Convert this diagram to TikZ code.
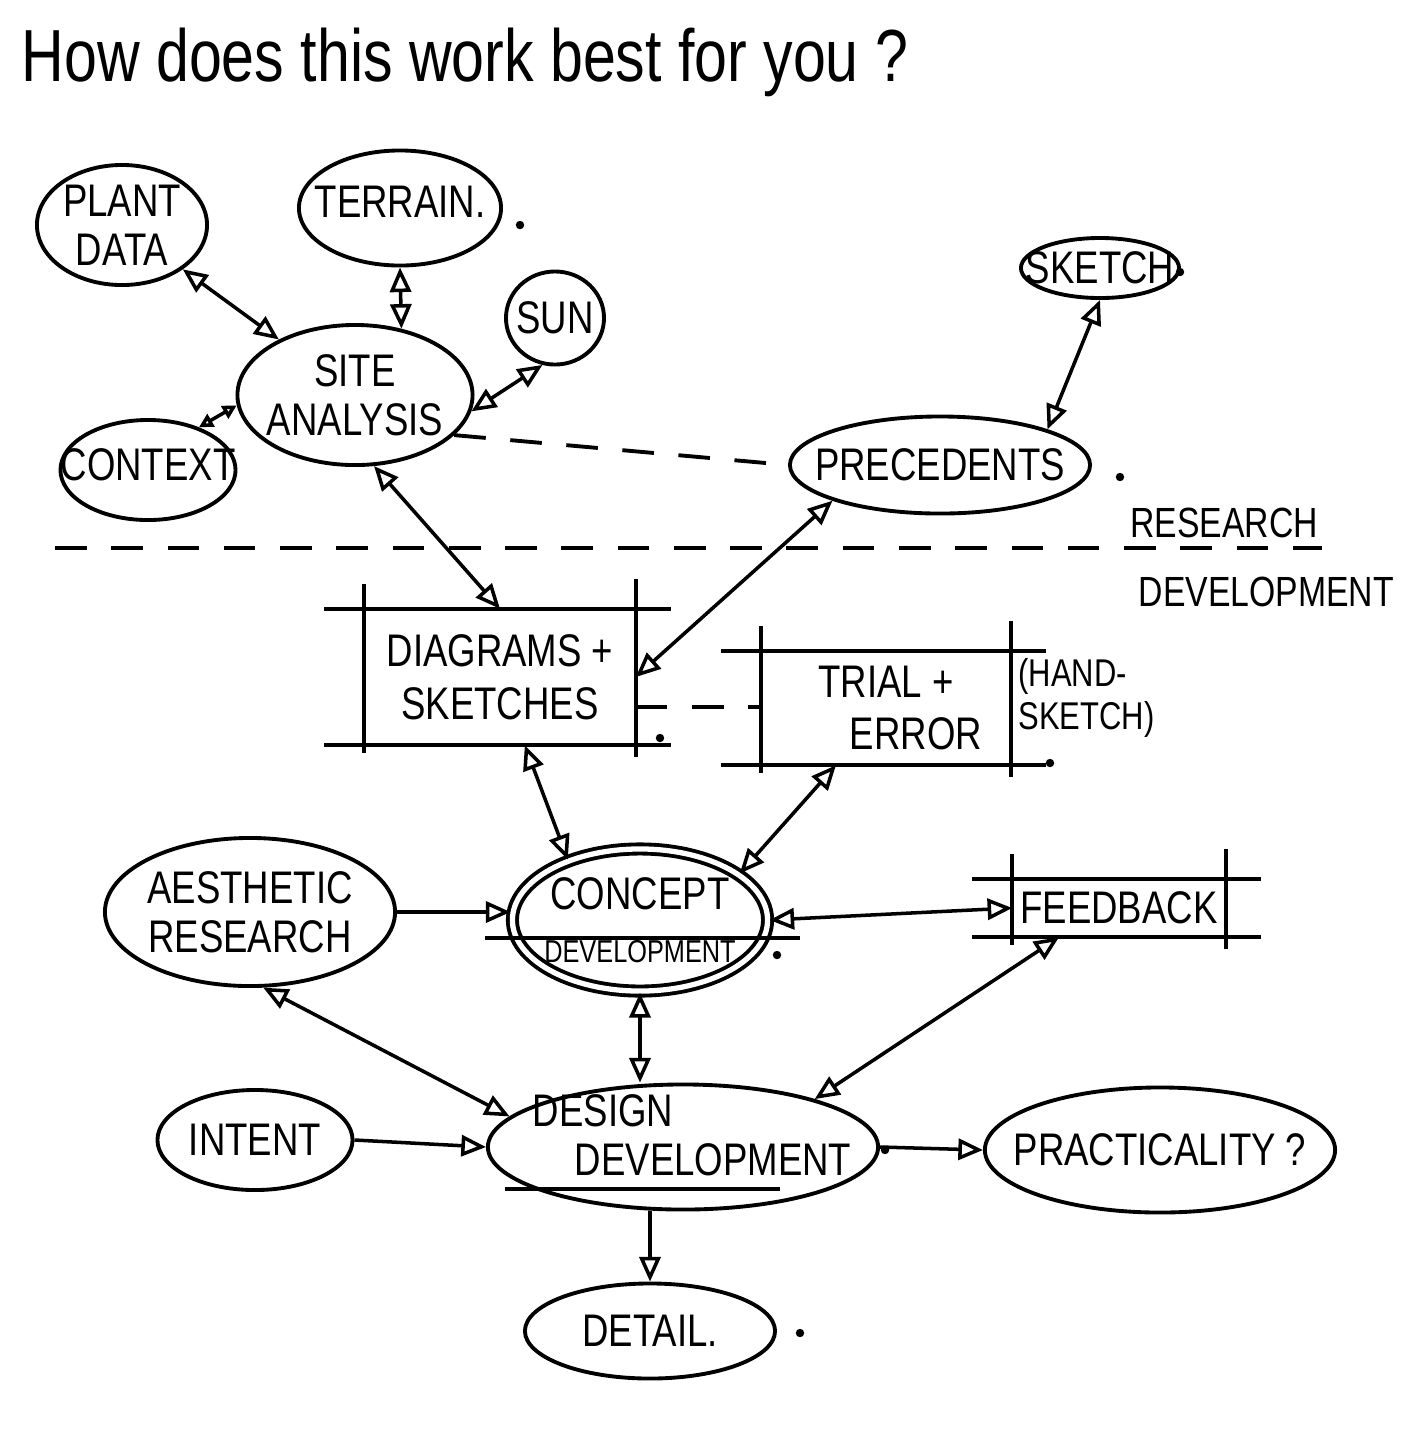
\documentclass[tikz,border=0pt]{standalone}
\usepackage{fontspec}
\setmainfont[FakeStretch=0.8]{Liberation Sans}
\usetikzlibrary{calc,positioning,shapes.geometric,arrows.meta}
\tikzset{
    word/.style={align=center, inner sep=0pt, font=\fontsize{13}{14}\selectfont},
    bubble/.style={ellipse, draw=black, line width=1.1pt, inner sep=0pt},
    frame/.style={rectangle, inner sep=0pt, align=center, font=\fontsize{13}{15}\selectfont},
    note/.style={font=\fontsize{12}{13}\selectfont, align=left, inner sep=1pt},
    rule/.style={line width=1.1pt},
    split/.style={line width=1.1pt, dash pattern=on 9pt off 7pt},
    line/.style={<->, line width=1pt, >={Triangle[open, length=7pt, width=6pt, line width=1pt]}},
    oneway/.style={->, line width=1pt, >={Triangle[open, length=7pt, width=6pt, line width=1pt]}},
}

\begin{document}
\begin{tikzpicture}
        [x=0.01cm, y=-0.01cm]
        \useasboundingbox (0,0) rectangle (1402,1429);

        \node[font=\fontsize{21}{23}\selectfont] (title) at (465,62) {How does this work best for you ?};

        % research side
        \node[bubble, minimum width=1.7cm, minimum height=1.2cm, label={[word]center:PLANT\\DATA}] (plant) at (122,225) {};
        \node[bubble, minimum width=2.02cm, minimum height=1.15cm, label={[word, yshift=0.06cm]center:TERRAIN.}] (terrain) at (400,208) {};
        \node[bubble, minimum width=0.98cm, minimum height=0.93cm, label={[word]center:SUN}] (sun) at (555,318) {};
        \node[bubble, minimum width=2.35cm, minimum height=1.4cm, label={[word]center:SITE\\ANALYSIS}] (site) at (355,395) {};
        \node[bubble, minimum width=1.75cm, minimum height=1.0cm, label={[word, yshift=0.05cm]center:CONTEXT}] (context) at (148,470) {};
        \node[bubble, minimum width=1.58cm, minimum height=0.6cm, label={[word]center:SKETCH}] (sketch) at (1100,268) {};
        \node[bubble, minimum width=3.0cm, minimum height=0.97cm, label={[word]center:PRECEDENTS}] (precedents) at (940,465) {};

        \coordinate (splitL) at (55,548);
        \coordinate (splitR) at (1322,548);
        \draw[split] (splitL) -- (splitR);
        \node[note, anchor=south east] (research) at ([yshift=0.06cm]splitR) {RESEARCH};
        \node[note, anchor=east] (development) at (1398,592) {DEVELOPMENT};

        % development side
        \node[frame, minimum width=2.7cm, minimum height=1.35cm] (diagrams) at (500,677) {DIAGRAMS +\\SKETCHES};
        \node[frame, minimum width=2.48cm, minimum height=1.13cm] (trial) at (886,708) {TRIAL +\\\hspace*{0.6cm}ERROR};
        \node[note, font=\fontsize{11}{12}\selectfont, right=1pt of trial, yshift=0.1cm] (hand) {(HAND-\\SKETCH)};
        \node[frame, minimum width=2.12cm, minimum height=0.57cm] (feedback) at (1119,908) {FEEDBACK};
        \foreach \b in {diagrams,trial,feedback} {
            \draw[rule] ($(\b.north west)+(-40,0)$) -- ($(\b.north east)+(35,0)$);
            \draw[rule] ($(\b.south west)+(-40,0)$) -- ($(\b.south east)+(35,0)$);
            \draw[rule] ($(\b.north west)+(0,-25)$) -- ($(\b.south west)+(0,8)$);
            \draw[rule] ($(\b.north east)+(0,-30)$) -- ($(\b.south east)+(0,12)$);
        }

        \node[bubble, minimum width=2.9cm, minimum height=1.48cm, label={[word]center:AESTHETIC\\RESEARCH}] (aesthetic) at (250,912) {};
        \node[bubble, double, double distance=1.5pt, minimum width=2.55cm, minimum height=1.42cm,
            label={[word]center:CONCEPT\\[1pt]{\fontsize{9}{10}\selectfont DEVELOPMENT}}] (concept) at (640,920) {};
        \draw[rule] ($(concept.west)+(-25,18)$) -- ($(concept.east)+(30,18)$);
        \node[bubble, minimum width=1.95cm, minimum height=1.0cm, label={[word]center:INTENT}] (intent) at (255,1140) {};
        \node[bubble, minimum width=3.9cm, minimum height=1.25cm,
            label={[word, yshift=0.12cm]center:DESIGN\hspace*{1.6cm}\\\hspace*{0.6cm}DEVELOPMENT}] (design) at (683,1147) {};
        \draw[rule] ($(design.center)+(-178,42)$) -- ++(275,0);
        \node[bubble, minimum width=3.5cm, minimum height=1.25cm, label={[word]center:PRACTICALITY ?}] (practicality) at (1160,1150) {};
        \node[bubble, minimum width=2.5cm, minimum height=0.95cm, label={[word]center:DETAIL.}] (detail) at (650,1331) {};

        \foreach \p in {(520,225),(1180,272),(1120,477),(660,738),(1050,763),(777,955),(885,1150),(800,1333)}
            \fill \p circle (1.2pt);

        \draw[split] (site.-22) -- (precedents.west);
        \draw[split] ([yshift=-0.3cm]diagrams.east) -- ([yshift=-0.3cm]diagrams.east -| trial.west);

        \draw[line] (plant) -- (site);
        \draw[line] (terrain.south) -- (site.55);
        \draw[line] (sun.-105) -- (site.-8);
        \draw[line, >={Triangle[open, length=4pt, width=4pt, line width=1pt]}] (context.40) -- (site.185);
        \draw[line] (sketch.south) -- (precedents.north east);
        \draw[line] (site.-75) -- (diagrams.north);
        \draw[line] (precedents.south west) -- (diagrams.east);
        \draw[line] (diagrams.-70) -- (concept.140);
        \draw[line] ([xshift=-0.5cm]trial.south) -- (concept.25);
        \draw[oneway] (aesthetic.east) -- (aesthetic.east -| concept.west);
        \draw[line] (concept.east) -- (feedback.west);
        \draw[line] (concept.south) -- (concept.south |- design.north);
        \draw[line] (aesthetic.-80) -- (design.170);
        \draw[line] ([xshift=-0.6cm]feedback.south) -- (design.20);
        \draw[oneway] (intent.east) -- (design.west);
        \draw[oneway] (design.east) -- (practicality.west);
        \draw[oneway] (design.south -| detail.north) -- (detail.north);

    \end{tikzpicture}
\end{document}
